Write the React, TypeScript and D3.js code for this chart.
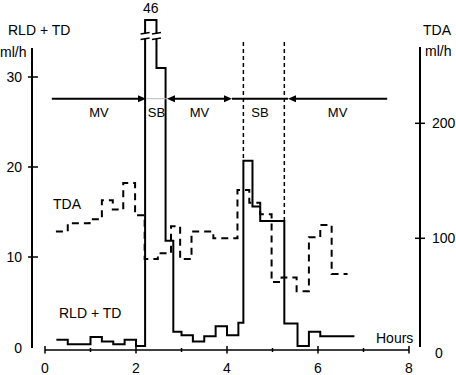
import React from 'react';
import * as d3 from 'd3';

// RLD + TD (ml/h), step series: start hour of each step and its value
const rldStarts = [0.25, 0.5, 1.0, 1.25, 1.5, 1.75, 2.0, 2.2, 2.45, 2.65, 2.82, 3.0, 3.25, 3.5, 3.75, 4.0, 4.25, 4.36, 4.56, 4.73, 5.26, 5.55, 5.8, 6.05];
const rldValues = [0.8, 0.3, 1.1, 0.6, 0.3, 0.8, 0.1, 46, 31, 11.8, 1.7, 1.3, 0.6, 1.2, 2.3, 1.3, 2.7, 20.7, 15.6, 14.0, 2.6, 0.1, 1.7, 1.2];
const rldEnd = 6.8;

// TDA (ml/h), step series
const tdaStarts = [0.24, 0.5, 0.98, 1.25, 1.49, 1.72, 1.98, 2.19, 2.48, 2.77, 2.97, 3.22, 3.7, 4.23, 4.49, 4.73, 4.98, 5.2, 5.53, 5.8, 6.05, 6.3];
const tdaValues = [106, 113, 116.5, 133, 125, 148, 120, 82, 87, 110.5, 82, 106, 100, 142, 131, 121, 62, 66, 54, 101, 111.5, 69];
const tdaEnd = 6.65;

const xTicks = [0, 1, 2, 3, 4, 5, 6, 7, 8];
const leftTicks = [10, 20, 30];
const rightTicks = [100, 200];
const phaseLabels = ['MV', 'SB', 'MV', 'SB', 'MV'];
const phaseBounds = [0.15, 2.22, 2.68, 4.11, 5.34, 7.52];
const sbMarkers = [4.36, 5.26];
const peakLabel = '46';

const W = 456;
const H = 375;
const FONT = '"Liberation Sans", Arial, Helvetica, sans-serif';

const x = d3.scaleLinear().domain([0, 8]).range([45, 409]);
const yL = d3.scaleLinear().domain([0, 32, 46]).range([347, 59, 20]);
const yR = d3.scaleLinear().domain([0, 200]).range([353.3, 123.3]);

function stepPts(starts: number[], values: number[], end: number): [number, number][] {
  const pts: [number, number][] = starts.map((s, i) => [s, values[i]]);
  pts.push([end, values[values.length - 1]]);
  return pts;
}

const lineL = d3.line<[number, number]>().x(d => x(d[0])).y(d => yL(d[1])).curve(d3.curveStepAfter);
const lineR = d3.line<[number, number]>().x(d => x(d[0])).y(d => yR(d[1])).curve(d3.curveStepAfter);

function arrowHead(tx: number, ty: number, dir: number) {
  const len = 8, hw = 3.5;
  return `M${tx},${ty} L${tx - dir * len},${ty - hw} L${tx - dir * len},${ty + hw} Z`;
}

export default function App() {
  const rldPath = lineL(stepPts(rldStarts, rldValues, rldEnd)) || '';
  const tdaPath = lineR(stepPts(tdaStarts, tdaValues, tdaEnd)) || '';
  const arrowY = 98.7;
  const axisY = 350;
  const leftX = 32;
  const rightX = 420;

  const peakIdx = rldValues.indexOf(46);
  const px0 = x(rldStarts[peakIdx]);
  const px1 = x(rldStarts[peakIdx + 1]);
  const breakYs = [33.3, 38.8];

  return (
    <svg width={W} height={H} style={{ position: 'absolute', left: 0, top: 0, background: '#fff' }} fontFamily={FONT}>
      {/* axes */}
      <line x1={leftX} x2={leftX} y1={48} y2={348} stroke="#000" strokeWidth={2} />
      <line x1={rightX} x2={rightX} y1={47} y2={347} stroke="#000" strokeWidth={2} />
      <line x1={x(0)} x2={x(8)} y1={axisY} y2={axisY} stroke="#000" strokeWidth={1.6} />
      {xTicks.map(t => (
        <line key={'xt' + t} x1={x(t)} x2={x(t)} y1={t % 2 === 0 ? axisY - 4 : axisY - 2} y2={t % 2 === 0 ? axisY + 3.5 : axisY + 2} stroke="#000" strokeWidth={1.5} />
      ))}
      {xTicks.filter(t => t % 2 === 0).map(t => (
        <text key={'xl' + t} x={x(t)} y={373} fontSize={14} textAnchor="middle">{t}</text>
      ))}
      {leftTicks.map(t => (
        <g key={'lt' + t}>
          <line x1={leftX - 4} x2={leftX + 6} y1={yL(t)} y2={yL(t)} stroke="#000" strokeWidth={1.5} />
          <text x={22} y={yL(t) + 5} fontSize={14} textAnchor="end">{t}</text>
        </g>
      ))}
      <text x={22} y={yL(0) + 6} fontSize={14} textAnchor="end">0</text>
      {rightTicks.map(t => (
        <g key={'rt' + t}>
          <line x1={rightX - 5} x2={rightX + 5} y1={yR(t)} y2={yR(t)} stroke="#000" strokeWidth={1.5} />
          <text x={432} y={yR(t) + 5} fontSize={14}>{t}</text>
        </g>
      ))}
      <text x={435} y={yR(0) + 5} fontSize={14}>0</text>

      {/* axis titles */}
      <text x={8} y={35} fontSize={14}>RLD + TD</text>
      <text x={0} y={57} fontSize={14}>ml/h</text>
      <text x={423} y={35} fontSize={14}>TDA</text>
      <text x={425} y={56} fontSize={14}>ml/h</text>
      <text x={376} y={343} fontSize={14}>Hours</text>

      {/* SB marker dashed verticals */}
      {sbMarkers.map((h, i) => {
        const idx = rldStarts.findIndex(s => Math.abs(s - h) < 0.02);
        const v = i === 0 ? rldValues[idx] : rldValues[idx - 1];
        return <line key={'sb' + i} x1={x(h)} x2={x(h)} y1={42} y2={yL(v)} stroke="#000" strokeWidth={1.5} strokeDasharray="4,3" />;
      })}

      {/* data lines */}
      <path d={tdaPath} fill="none" stroke="#000" strokeWidth={2} strokeDasharray="7,5" />
      <path d={rldPath} fill="none" stroke="#000" strokeWidth={2} />

      {/* axis break on peak */}
      <rect x={px0 - 2} y={breakYs[0] + 0.5} width={px1 - px0 + 4} height={breakYs[1] - breakYs[0] - 1} fill="#fff" />
      {[px0, px1].map((p, i) => (
        <g key={'br' + i}>
          {breakYs.map((by, j) => (
            <line key={j} x1={p - 4.5} x2={p + 4.5} y1={by + 0.8} y2={by - 0.8} stroke="#000" strokeWidth={1.5} />
          ))}
        </g>
      ))}
      <text x={(px0 + px1) / 2} y={13} fontSize={14} textAnchor="middle">{peakLabel}</text>

      {/* phase arrows */}
      <line x1={x(phaseBounds[0])} x2={x(phaseBounds[1]) - 6} y1={arrowY} y2={arrowY} stroke="#000" strokeWidth={2} />
      <path d={arrowHead(x(phaseBounds[1]), arrowY, 1)} fill="#000" />
      <line x1={x(phaseBounds[1])} x2={x(phaseBounds[2])} y1={arrowY} y2={arrowY} stroke="#bbb" strokeWidth={1} />
      <line x1={x(phaseBounds[2]) + 6} x2={x(phaseBounds[3]) - 6} y1={arrowY} y2={arrowY} stroke="#000" strokeWidth={2} />
      <path d={arrowHead(x(phaseBounds[2]), arrowY, -1)} fill="#000" />
      <path d={arrowHead(x(phaseBounds[3]), arrowY, 1)} fill="#000" />
      <line x1={x(phaseBounds[3])} x2={x(phaseBounds[4])} y1={arrowY} y2={arrowY} stroke="#000" strokeWidth={2} />
      <line x1={x(phaseBounds[4]) + 6} x2={x(phaseBounds[5])} y1={arrowY} y2={arrowY} stroke="#000" strokeWidth={2} />
      <path d={arrowHead(x(phaseBounds[4]), arrowY, -1)} fill="#000" />
      {phaseLabels.map((lab, i) => (
        <text key={'ph' + i} x={x((phaseBounds[i] + phaseBounds[i + 1]) / 2)} y={117} fontSize={13} textAnchor="middle">{lab}</text>
      ))}

      {/* series labels */}
      <text x={53} y={209} fontSize={14}>TDA</text>
      <text x={59} y={318} fontSize={14}>RLD + TD</text>
    </svg>
  );
}
